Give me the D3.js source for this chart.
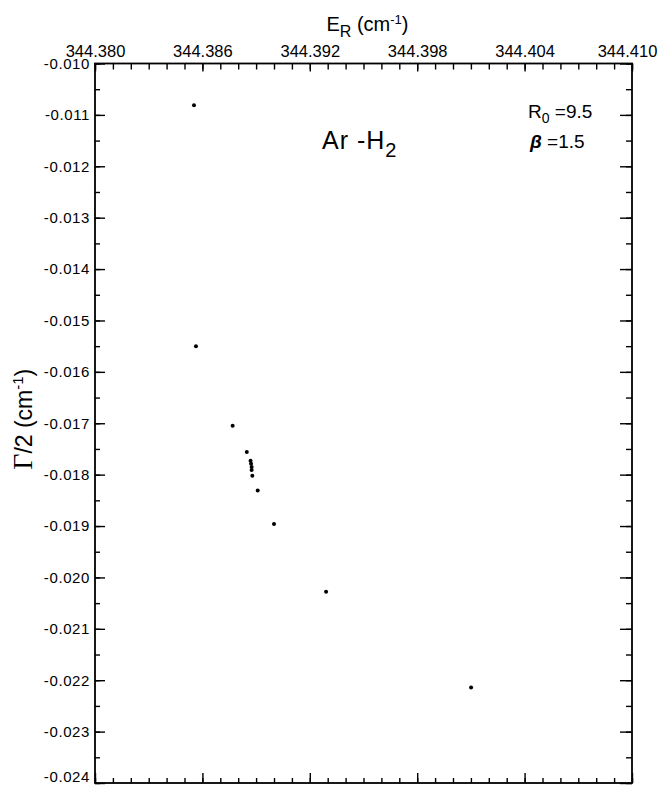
<!DOCTYPE html>
<html>
<head>
<meta charset="utf-8">
<script src="https://cdn.jsdelivr.net/npm/d3@7"></script>
<style>
  body { margin: 0; background: #fff; }
  text { font-family: "Liberation Sans", Arial, sans-serif; fill: #000; }
</style>
</head>
<body>
<div id="chart"></div>
<script>
// resonance positions E_R (cm-1) and half widths (cm-1)
const energies = [344.38553, 344.38564, 344.38769, 344.38848, 344.38869, 344.38872, 344.38875, 344.38875, 344.38879, 344.38909, 344.39000, 344.39291, 344.40101];
const halfWidths = [-0.01081, -0.01550, -0.01705, -0.01756, -0.01773, -0.01779, -0.01785, -0.01791, -0.01802, -0.01831, -0.01896, -0.02028, -0.02214];

const xTickLabels = [344.380, 344.386, 344.392, 344.398, 344.404, 344.410];
const yTickLabels = [-0.010, -0.011, -0.012, -0.013, -0.014, -0.015, -0.016, -0.017, -0.018, -0.019, -0.020, -0.021, -0.022, -0.023, -0.024];

const points = energies.map((e, i) => ({ e: e, g: halfWidths[i] }));

const W = 659, H = 786;
const margin = { top: 63.5, right: 27, bottom: 3, left: 95 };
const width = W - margin.left - margin.right;
const height = H - margin.top - margin.bottom;

const x = d3.scaleLinear()
    .domain([344.380, 344.410])
    .range([0, width]);

const y = d3.scaleLinear()
    .domain([-0.024, -0.010])
    .range([height, 0]);

const svg = d3.select("#chart")
    .append("svg")
    .attr("width", W)
    .attr("height", H);

const g = svg.append("g")
    .attr("transform", `translate(${margin.left},${margin.top})`);

const fmt = d => d.toFixed(3);

// minor ticks every 0.001 on x, every 0.0005 on y
const xMinor = x.ticks(30);
const yMinor = y.ticks(28);

function styleAxis(sel) {
    sel.select(".domain").remove();
    sel.selectAll("line").attr("stroke", "#000").attr("stroke-width", 1.4);
}

// top axis (labelled)
g.append("g")
    .call(d3.axisTop(x).tickValues(xMinor).tickFormat("").tickSize(-6))
    .call(styleAxis);
const topAxis = g.append("g")
    .call(d3.axisTop(x).tickValues(xTickLabels).tickFormat(fmt).tickSize(-8).tickPadding(7))
    .call(styleAxis);
topAxis.selectAll("text")
    .style("font-size", "16.5px");
// last label sits a little left of its tick so it stays on the page
topAxis.selectAll("text")
    .filter(d => d === xTickLabels[xTickLabels.length - 1])
    .attr("dx", -5);

// bottom axis (ticks only)
g.append("g")
    .attr("transform", `translate(0,${height})`)
    .call(d3.axisBottom(x).tickValues(xMinor).tickFormat("").tickSize(-5))
    .call(styleAxis);
g.append("g")
    .attr("transform", `translate(0,${height})`)
    .call(d3.axisBottom(x).tickValues(xTickLabels).tickFormat("").tickSize(-10))
    .call(styleAxis);

// left axis (labelled)
g.append("g")
    .call(d3.axisLeft(y).tickValues(yMinor).tickFormat("").tickSize(-5))
    .call(styleAxis);
const leftAxis = g.append("g")
    .call(d3.axisLeft(y).tickValues(yTickLabels).tickFormat(fmt).tickSize(-10).tickPadding(5))
    .call(styleAxis);
leftAxis.selectAll("text")
    .style("font-size", "15px")
    .style("letter-spacing", "0.6px");
leftAxis.selectAll("text")
    .filter(d => d === yTickLabels[yTickLabels.length - 1])
    .attr("dy", "-0.1em");

// right axis (ticks only)
g.append("g")
    .attr("transform", `translate(${width},0)`)
    .call(d3.axisRight(y).tickValues(yMinor).tickFormat("").tickSize(-6))
    .call(styleAxis);
g.append("g")
    .attr("transform", `translate(${width},0)`)
    .call(d3.axisRight(y).tickValues(yTickLabels).tickFormat("").tickSize(-12))
    .call(styleAxis);

// frame
g.append("rect")
    .attr("x", 0)
    .attr("y", 0)
    .attr("width", width)
    .attr("height", height)
    .attr("fill", "none")
    .attr("stroke", "#000")
    .attr("stroke-width", 1.8);

// points
g.selectAll(".pt")
    .data(points)
    .enter().append("circle")
    .attr("class", "pt")
    .attr("cx", d => x(d.e))
    .attr("cy", d => y(d.g))
    .attr("r", 2)
    .attr("fill", "#000");

// x axis title
const xt = svg.append("text")
    .attr("x", margin.left + width / 2 + 4)
    .attr("y", 31)
    .attr("text-anchor", "middle")
    .style("font-size", "20px");
xt.append("tspan").text("E");
xt.append("tspan").attr("dy", 6).style("font-size", "16px").text("R");
xt.append("tspan").attr("dy", -6).text(" (cm");
xt.append("tspan").attr("dy", -7).style("font-size", "13px").text("-1");
xt.append("tspan").attr("dy", 7).text(")");

// y axis title
const yt = svg.append("text")
    .attr("transform", `translate(32,${margin.top + height / 2 - 4}) rotate(-90)`)
    .attr("text-anchor", "middle")
    .style("font-size", "23px");
yt.append("tspan").style("font-family", "'Liberation Serif', serif").style("font-size", "28px").text("Γ");
yt.append("tspan").text("/2 (cm");
yt.append("tspan").attr("dy", -9).style("font-size", "15px").text("-1");
yt.append("tspan").attr("dy", 9).text(")");

// annotations
const ar = svg.append("text")
    .attr("x", 322)
    .attr("y", 149)
    .style("font-size", "25px")
    .style("letter-spacing", "1px");
ar.append("tspan").text("Ar -H");
ar.append("tspan").attr("dy", 8).style("font-size", "20px").text("2");

const r0 = svg.append("text")
    .attr("x", 528)
    .attr("y", 118)
    .style("font-size", "19px");
r0.append("tspan").text("R");
r0.append("tspan").attr("dy", 5).style("font-size", "14px").text("0");
r0.append("tspan").attr("dy", -5).text(" =9.5");

const be = svg.append("text")
    .attr("x", 530)
    .attr("y", 148)
    .style("font-size", "19px");
be.append("tspan").style("font-weight", "bold").style("font-style", "italic").text("β");
be.append("tspan").text(" =1.5");
</script>
</body>
</html>
